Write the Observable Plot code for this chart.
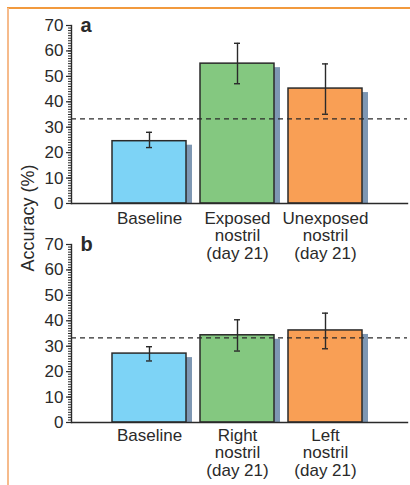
<!DOCTYPE html>
<html>
<head>
<meta charset="utf-8">
<script src="https://cdn.jsdelivr.net/npm/d3@7"></script>
<script src="https://cdn.jsdelivr.net/npm/@observablehq/plot@0.6"></script>
<style>
  html, body { margin: 0; padding: 0; background: #fff; }
  #wrap { position: relative; width: 410px; height: 485px; overflow: hidden; font-family: "Liberation Sans", Arial, Helvetica, sans-serif; }
  .frameTop { position: absolute; left: 7px; top: 7px; width: 403px; height: 0; border-top: 2px solid #f29a3e; }
  .frameLeft { position: absolute; left: 7px; top: 8px; width: 0; height: 477px; border-left: 2px solid #f6bb8c; }
  .panel { position: absolute; left: 0; }
  .ylab { position: absolute; left: 28px; top: 218px; transform: translate(-50%, -50%) rotate(-90deg); white-space: nowrap; font-size: 18px; color: #2a2a2a; }
</style>
</head>
<body>
<div id="wrap">
  <div class="frameTop"></div>
  <div class="frameLeft"></div>
  <div id="pa" class="panel" style="top:0px"></div>
  <div id="pb" class="panel" style="top:219px"></div>
  <div class="ylab">Accuracy (%)</div>
</div>
<script>
const categoriesA = ["Baseline", "Exposed\nnostril\n(day 21)", "Unexposed\nnostril\n(day 21)"];
const valuesA = [24.5, 55.0, 45.2];
const errLowA = [22.0, 47.1, 35.1];
const errHighA = [28.0, 63.0, 54.9];

const categoriesB = ["Baseline", "Right\nnostril\n(day 21)", "Left\nnostril\n(day 21)"];
const valuesB = [27.1, 34.3, 36.2];
const errLowB = [24.2, 28.1, 29.0];
const errHighB = [29.8, 40.4, 43.0];

const chanceLevel = 33.3;
const majorTicks = [0, 10, 20, 30, 40, 50, 60, 70];
const minorTicks = d3.range(0, 71, 1);
const barColors = ["#7dd3f6", "#84c880", "#f99f55"];
const shadowColor = "#7e97b3";
const ink = "#2a2a2a";

function panel(letter, cats, vals, lo, hi, labelPad) {
  const data = cats.map((c, i) => ({cat: c, v: vals[i], lo: lo[i], hi: hi[i], color: barColors[i]}));
  return Plot.plot({
    width: 410,
    height: 266,
    marginLeft: 71,
    marginRight: 3,
    marginTop: 25,
    marginBottom: 63,
    style: {fontFamily: '"Liberation Sans", Arial, Helvetica, sans-serif', color: ink, background: "transparent", overflow: "visible"},
    x: {domain: cats, range: [111, 364], paddingInner: 0.155, paddingOuter: 0, align: 0.5, label: null},
    y: {domain: [0, 70], label: null},
    marks: [
      Plot.barY(data, {x: "cat", y: "v", fill: shadowColor, dx: 6, insetTop: 4}),
      Plot.barY(data, {x: "cat", y: "v", fill: "color", stroke: ink, strokeWidth: 1.5}),
      Plot.ruleY([chanceLevel], {stroke: ink, strokeWidth: 1.2, strokeDasharray: "5,4"}),
      Plot.ruleX(data, {x: "cat", y1: "lo", y2: "hi", stroke: ink, strokeWidth: 1.4}),
      Plot.tickY(data, {x: "cat", y: "lo", stroke: ink, strokeWidth: 1.4, inset: 34}),
      Plot.tickY(data, {x: "cat", y: "hi", stroke: ink, strokeWidth: 1.4, inset: 34}),
      Plot.frame({anchor: "bottom", stroke: ink, strokeWidth: 1.4}),
      Plot.frame({anchor: "left", stroke: ink, strokeWidth: 1.4}),
      Plot.axisY({ticks: minorTicks, tickSize: 3, text: null, label: null, stroke: ink, strokeWidth: 1}),
      Plot.axisY({ticks: majorTicks, tickSize: 5, tickPadding: 3, label: null, fontSize: 17, stroke: ink, strokeWidth: 1.2, fill: ink}),
      Plot.axisX({tickSize: 0, tickPadding: labelPad, label: null, fontSize: 17, lineHeight: 1.03, fill: ink}),
      Plot.text([letter], {frameAnchor: "top-left", dx: 9, dy: 0, lineAnchor: "middle", fontSize: 20, fontWeight: "bold", fill: ink, textAnchor: "start"})
    ]
  });
}

document.getElementById("pa").append(panel("a", categoriesA, valuesA, errLowA, errHighA, 8));
document.getElementById("pb").append(panel("b", categoriesB, valuesB, errLowB, errHighB, 6));
</script>
</body>
</html>
